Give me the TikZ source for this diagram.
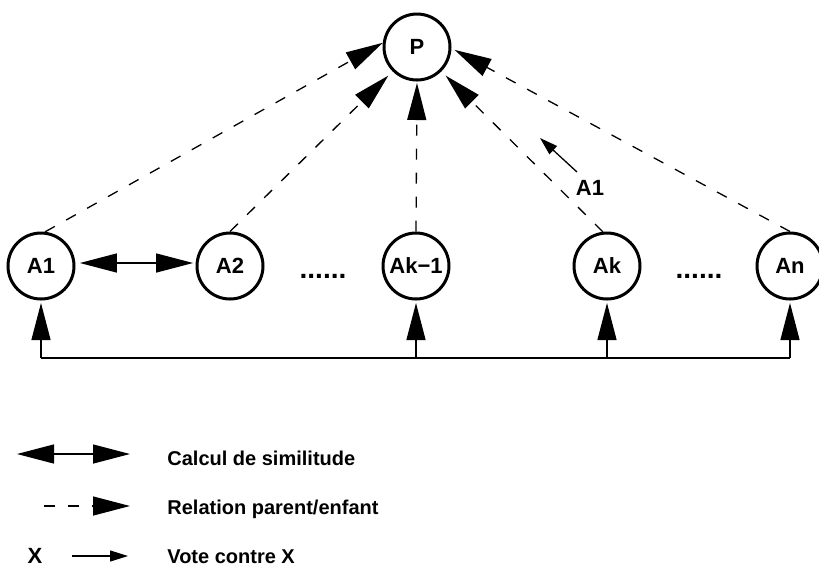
\documentclass[tikz,border=0pt]{standalone}
\usepackage{fontspec}
\setsansfont{Liberation Sans}
\usetikzlibrary{arrows.meta}
\tikzset{agent/.style={circle, draw, line width=1.5pt, minimum size=33pt, inner sep=0pt}}
\tikzset{simil/.style={{Triangle[length=18.5pt,width=9.5pt]}-{Triangle[length=18.5pt,width=9.5pt]}, line width=0.65pt}}
\tikzset{lien/.style={-{Triangle[length=18.5pt,width=9.5pt]}, line width=0.65pt}}
\tikzset{parent/.style={lien, dash pattern=on 5.5pt off 6.5pt}}
\tikzset{vote/.style={-{Triangle[length=9pt,width=5.5pt]}, line width=0.65pt}}
\tikzset{legende/.style={anchor=base west, inner sep=0pt, font=\sffamily\bfseries\fontsize{10}{12}\selectfont}}
\tikzset{points/.style={anchor=base, font=\sffamily\bfseries\fontsize{14}{16}\selectfont}}

\begin{document}
\begin{tikzpicture}[x=0.5pt, y=-0.5pt, font=\sffamily\bfseries\fontsize{11}{13}\selectfont]
    \useasboundingbox (0,0) rectangle (819,586);
    \node[agent] (p) at (417,47) {P};
    \node[agent] (a1) at (41,266) {A1};
    \node[agent] (a2) at (230,266) {A2};
    \node[agent] (ak1) at (416,266) {Ak−1};
    \node[agent] (ak) at (607,266) {Ak};
    \node[agent] (an) at (790,266) {An};
    \node[points] (dots1) at (323,278) {......};
    \node[points] (dots2) at (699,278) {......};
    \draw[simil, shorten <=2.25pt, shorten >=1.25pt] (a1.5) -- (a2.175);
    \draw[parent] (a1.83) -- (p.173);
    \draw[parent, shorten >=3pt] (a2.north) -- (p.225);
    \draw[parent, shorten >=0.75pt] (ak1.north) -- (p.south);
    \draw[parent, shorten >=3pt] (ak.97) -- (p.315);
    \draw[parent, shorten >=1.75pt] (an.north) -- (p.358);
    \coordinate (b1) at (a1 |- 0,358);
    \coordinate (b2) at (an |- 0,358);
    \draw[line width=0.65pt] (b1) -- (b2);
    \foreach \n in {a1,ak1,ak,an}
        \draw[lien, shorten >=1.25pt] (\n |- b1) -- (\n);
    \node (vlbl) at (590,188) {A1};
    \coordinate (vs) at (577,172);
    \coordinate (ve) at (540,138);
    \draw[vote] (vs) -- (ve);
    \coordinate (l1a) at (17,454);
    \coordinate (l1b) at (130,454);
    \draw[simil] (l1a) -- (l1b);
    \node[legende] (t1) at (167,465) {Calcul de similitude};
    \coordinate (l2a) at (44,506);
    \coordinate (l2b) at (130,506);
    \draw[parent] (l2a) -- (l2b);
    \node[legende] (t2) at (167,514) {Relation parent/enfant};
    \node[anchor=base] (x) at (35,563) {X};
    \coordinate (l3a) at (72,556);
    \coordinate (l3b) at (128,556);
    \draw[vote] (l3a) -- (l3b);
    \node[legende] (t3) at (167,563) {Vote contre X};
\end{tikzpicture}
\end{document}
